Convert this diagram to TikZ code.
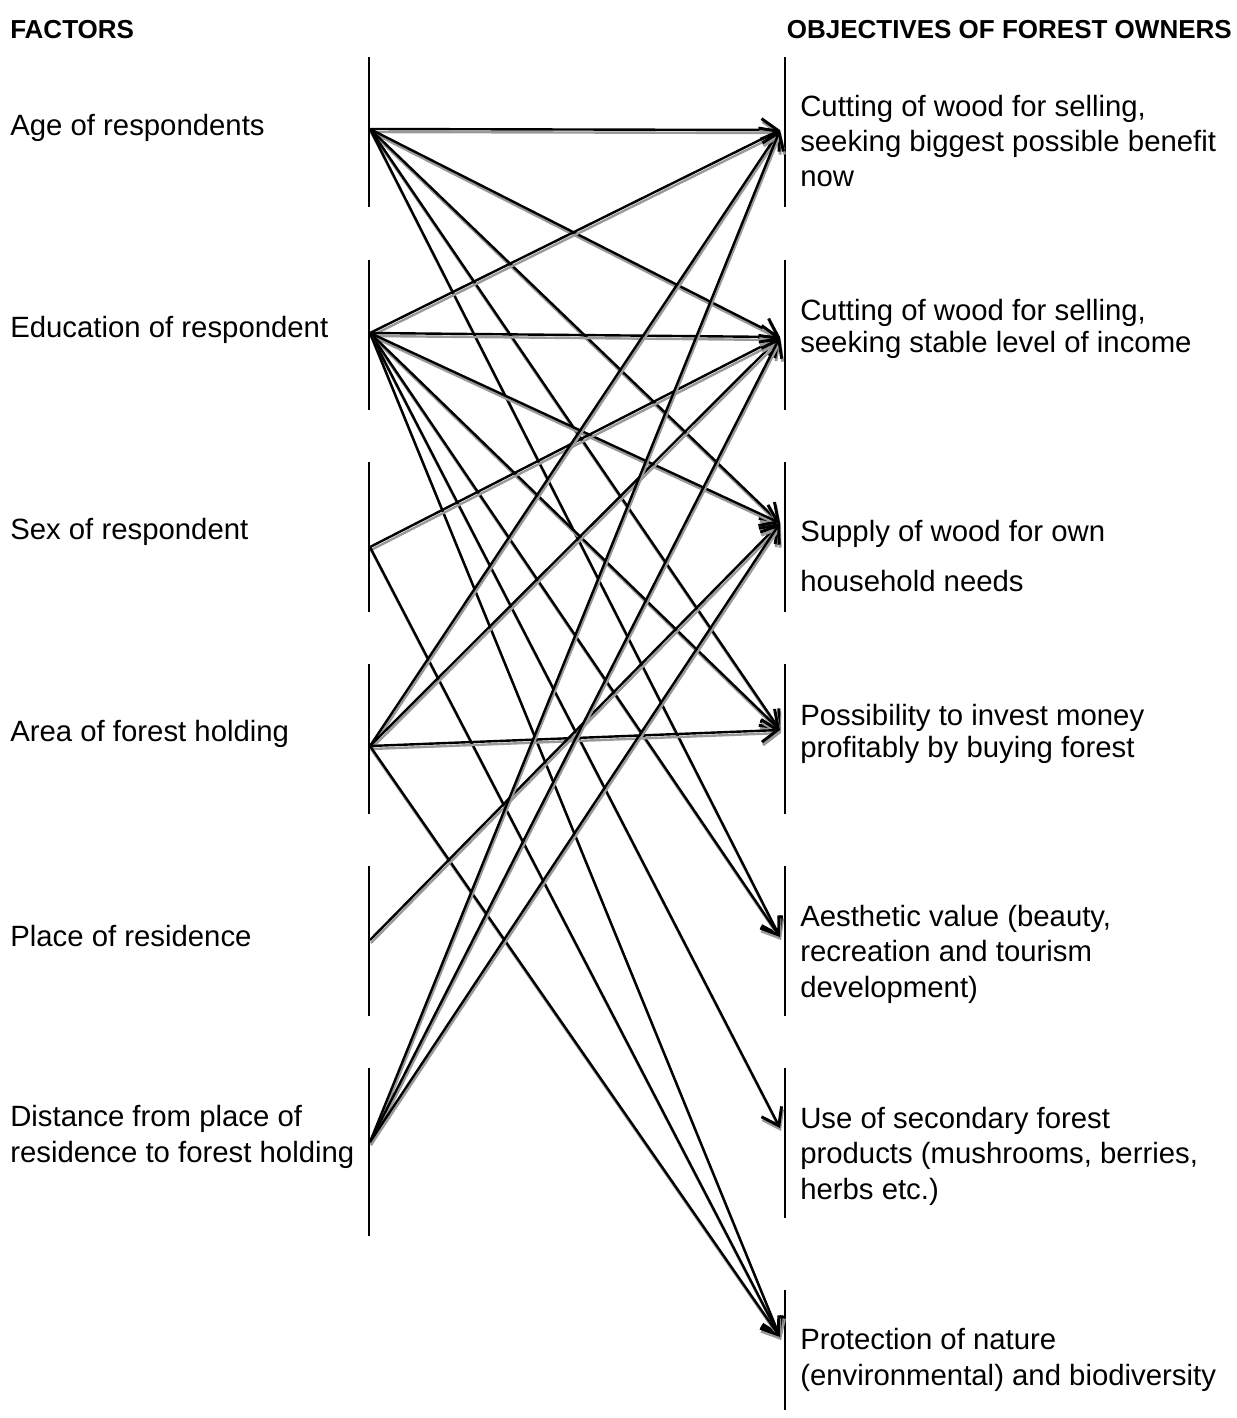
\documentclass[tikz,border=0pt]{standalone}
\usepackage{fontspec}
\setmainfont{Liberation Sans}
\usetikzlibrary{arrows.meta}
\begin{document}
\begin{tikzpicture}[x=0.75pt,y=-0.75pt,
  lbl/.style={anchor=west,inner sep=0pt,align=left,font=\fontsize{22}{26.6}\selectfont},
  hdr/.style={inner sep=0pt,font=\fontsize{19.5}{23}\selectfont\bfseries},
  bar/.style={line width=1.3pt},
  conn/.style={line width=1.8pt,-{Straight Barb[length=12pt,width=17pt,line width=2.2pt]}},
  shd/.style={conn,draw=black!40},
]
\useasboundingbox (0,0) rectangle (1237,1418);
\newcommand\conlink[2]{\draw[shd] ([shift={(1,3)}]#1) -- ([shift={(1,3)}]#2); \draw[conn] (#1) -- (#2);}

% headings
\node[hdr,anchor=west] (hf) at (10,30) {FACTORS};
\node[hdr,anchor=east] (ho) at (1232,30) {OBJECTIVES OF FOREST OWNERS};

% left bars
\draw[bar] (369,57) -- (369,207);
\draw[bar] (369,260) -- (369,410);
\draw[bar] (369,462) -- (369,612);
\draw[bar] (369,664) -- (369,814);
\draw[bar] (369,866) -- (369,1016);
\draw[bar] (369,1068) -- (369,1236);

% right bars
\draw[bar] (785,57) -- (785,207);
\draw[bar] (785,260) -- (785,410);
\draw[bar] (785,462) -- (785,612);
\draw[bar] (785,664) -- (785,814);
\draw[bar] (785,866) -- (785,1016);
\draw[bar] (785,1068) -- (785,1218);
\draw[bar] (785,1290) -- (785,1410);

% left labels
\node[lbl] (f1) at (10,128) {Age of respondents};
\node[lbl] (f2) at (10,330) {Education of respondent};
\node[lbl] (f3) at (10,532) {Sex of respondent};
\node[lbl] (f4) at (10,734) {Area of forest holding};
\node[lbl] (f5) at (10,936) {Place of residence};
\node[lbl] (f6) at (10,1137) {Distance from place of\\residence to forest holding};

% right labels
\node[lbl] (o1) at (800,141) {Cutting of wood for selling,\\seeking biggest possible benefit\\now};
\node[lbl] (o2) at (800,329) {Cutting of wood for selling,\\[-2.6pt]seeking stable level of income};
\node[lbl] (o3) at (800,556) {Supply of wood for own\\[11.5pt]household needs};
\node[lbl] (o4) at (800,734) {Possibility to invest money\\[-2.6pt]profitably by buying forest};
\node[lbl] (o5) at (800,954) {Aesthetic value (beauty,\\recreation and tourism\\development)};
\node[lbl] (o6) at (800,1156) {Use of secondary forest\\products (mushrooms, berries,\\herbs etc.)};
\node[lbl] (o7) at (800,1360) {Protection of nature\\(environmental) and biodiversity};

% source and target points
\coordinate (s1) at (370,129);
\coordinate (s2) at (370,333);
\coordinate (s3) at (370,547);
\coordinate (s4) at (370,746);
\coordinate (s5) at (370,940);
\coordinate (s6) at (370,1142);

\coordinate (t1) at (780,130);
\coordinate (t2) at (780,337);
\coordinate (t3) at (780,523);
\coordinate (t4) at (780,730);
\coordinate (t5) at (780,937);
\coordinate (t6) at (780,1128);
\coordinate (t7) at (780,1337);

% age
\conlink{s1}{t1}\conlink{s1}{t2}\conlink{s1}{t3}\conlink{s1}{t4}\conlink{s1}{t5}
% education
\conlink{s2}{t1}\conlink{s2}{t2}\conlink{s2}{t3}\conlink{s2}{t4}\conlink{s2}{t5}\conlink{s2}{t6}\conlink{s2}{t7}
% sex
\conlink{s3}{t2}\conlink{s3}{t7}
% area
\conlink{s4}{t1}\conlink{s4}{t2}\conlink{s4}{t4}\conlink{s4}{t7}
% residence
\conlink{s5}{t3}
% distance
\conlink{s6}{t1}\conlink{s6}{t2}\conlink{s6}{t3}
\end{tikzpicture}
\end{document}
